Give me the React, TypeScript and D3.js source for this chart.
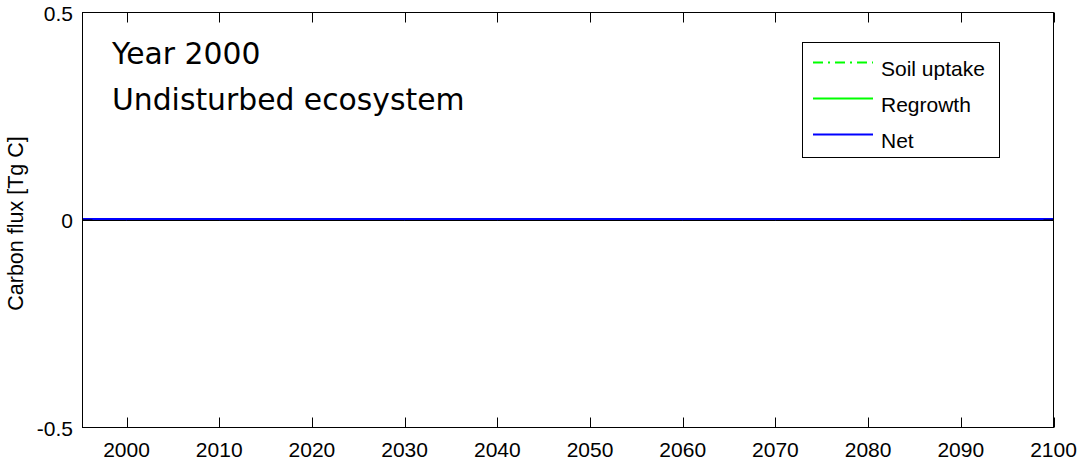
import React from "react";
import * as d3 from "d3";

const years = [1995.25, 2000, 2010, 2020, 2030, 2040, 2050, 2060, 2070, 2080, 2090, 2100];
const soilUptake = [0, 0, 0, 0, 0, 0, 0, 0, 0, 0, 0, 0];
const regrowth = [0, 0, 0, 0, 0, 0, 0, 0, 0, 0, 0, 0];
const net = [0, 0, 0, 0, 0, 0, 0, 0, 0, 0, 0, 0];
const xTicks = [2000, 2010, 2020, 2030, 2040, 2050, 2060, 2070, 2080, 2090, 2100];
const yTicks = [-0.5, 0, 0.5];
const yTickLabels = ["-0.5", "0", "0.5"];
const legendItems = ["Soil uptake", "Regrowth", "Net"];
const titleLines = ["Year 2000", "Undisturbed ecosystem"];

const W = 1080;
const H = 464;
const L = 82.5, R = 1053.5, T = 12.5, B = 427.5;

export default function App() {
  const x = d3.scaleLinear().domain([1995.25, 2100]).range([L, R]);
  const y = d3.scaleLinear().domain([-0.5, 0.5]).range([B, T]);
  const line = (vals: number[]) =>
    d3.line<number>().x((_, i) => x(years[i])).y((v) => y(v))(vals) || "";
  const tickLen = 10;
  const font = "'Liberation Sans', Arial, sans-serif";
  const legX = 802.5, legY = 42.5, legW = 197, legH = 115;
  const rowY = [62.5, 98.5, 134.5];
  const legStyles = [
    { color: "#00ff00", dash: "10,5,2,5" },
    { color: "#00ff00", dash: "" },
    { color: "#0000ff", dash: "" },
  ];
  return (
    <svg width={W} height={H} style={{ position: "absolute", left: 0, top: 0, background: "#fff" }}>
      <rect x={0} y={0} width={W} height={H} fill="#fff" />
      {/* lines */}
      <path d={line(soilUptake)} fill="none" stroke="#00ff00" strokeWidth={2} strokeDasharray="10,5,2,5" />
      <path d={line(regrowth)} fill="none" stroke="#00ff00" strokeWidth={2} />
      <path d={line(net)} fill="none" stroke="#0000ff" strokeWidth={3} transform="translate(0,-0.5)" />
      <path d={line(net)} fill="none" stroke="#000" strokeWidth={1} transform="translate(0,0.5)" />
      {/* axes box */}
      <rect x={L} y={T} width={R - L} height={B - T} fill="none" stroke="#000" strokeWidth={1} />
      {xTicks.map((t) => (
        <g key={t}>
          <line x1={Math.round(x(t)) + 0.5} x2={Math.round(x(t)) + 0.5} y1={B} y2={B - tickLen} stroke="#000" />
          <line x1={Math.round(x(t)) + 0.5} x2={Math.round(x(t)) + 0.5} y1={T} y2={T + tickLen} stroke="#000" />
          <text x={x(t)} y={457} fontFamily={font} fontSize={21} textAnchor="middle" fill="#000">
            {t}
          </text>
        </g>
      ))}
      {yTicks.map((t, i) => (
        <g key={t}>
          <line x1={L} x2={L + tickLen} y1={y(t)} y2={y(t)} stroke="#000" />
          <line x1={R} x2={R - tickLen} y1={y(t)} y2={y(t)} stroke="#000" />
          <text x={73} y={y(t) + 8} fontFamily={font} fontSize={21} textAnchor="end" fill="#000">
            {yTickLabels[i]}
          </text>
        </g>
      ))}
      <text
        transform={`translate(23,${(135 + 312) / 2}) rotate(-90)`}
        fontFamily={font}
        fontSize={21.5}
        textAnchor="middle"
        fill="#000"
      >
        Carbon flux [Tg C]
      </text>
      {titleLines.map((s, i) => (
        <text key={s} x={112} y={64 + i * 46} fontFamily="'DejaVu Sans', sans-serif" fontSize={29.8} fill="#000">
          {s}
        </text>
      ))}
      {/* legend */}
      <rect x={legX} y={legY} width={legW} height={legH} fill="#fff" stroke="#000" strokeWidth={1} />
      {legendItems.map((s, i) => (
        <g key={s}>
          <line
            x1={813}
            x2={873}
            y1={rowY[i]}
            y2={rowY[i]}
            stroke={legStyles[i].color}
            strokeWidth={2}
            strokeDasharray={legStyles[i].dash}
          />
          <text x={881} y={rowY[i] + 13} fontFamily={font} fontSize={21} fill="#000">
            {s}
          </text>
        </g>
      ))}
    </svg>
  );
}
